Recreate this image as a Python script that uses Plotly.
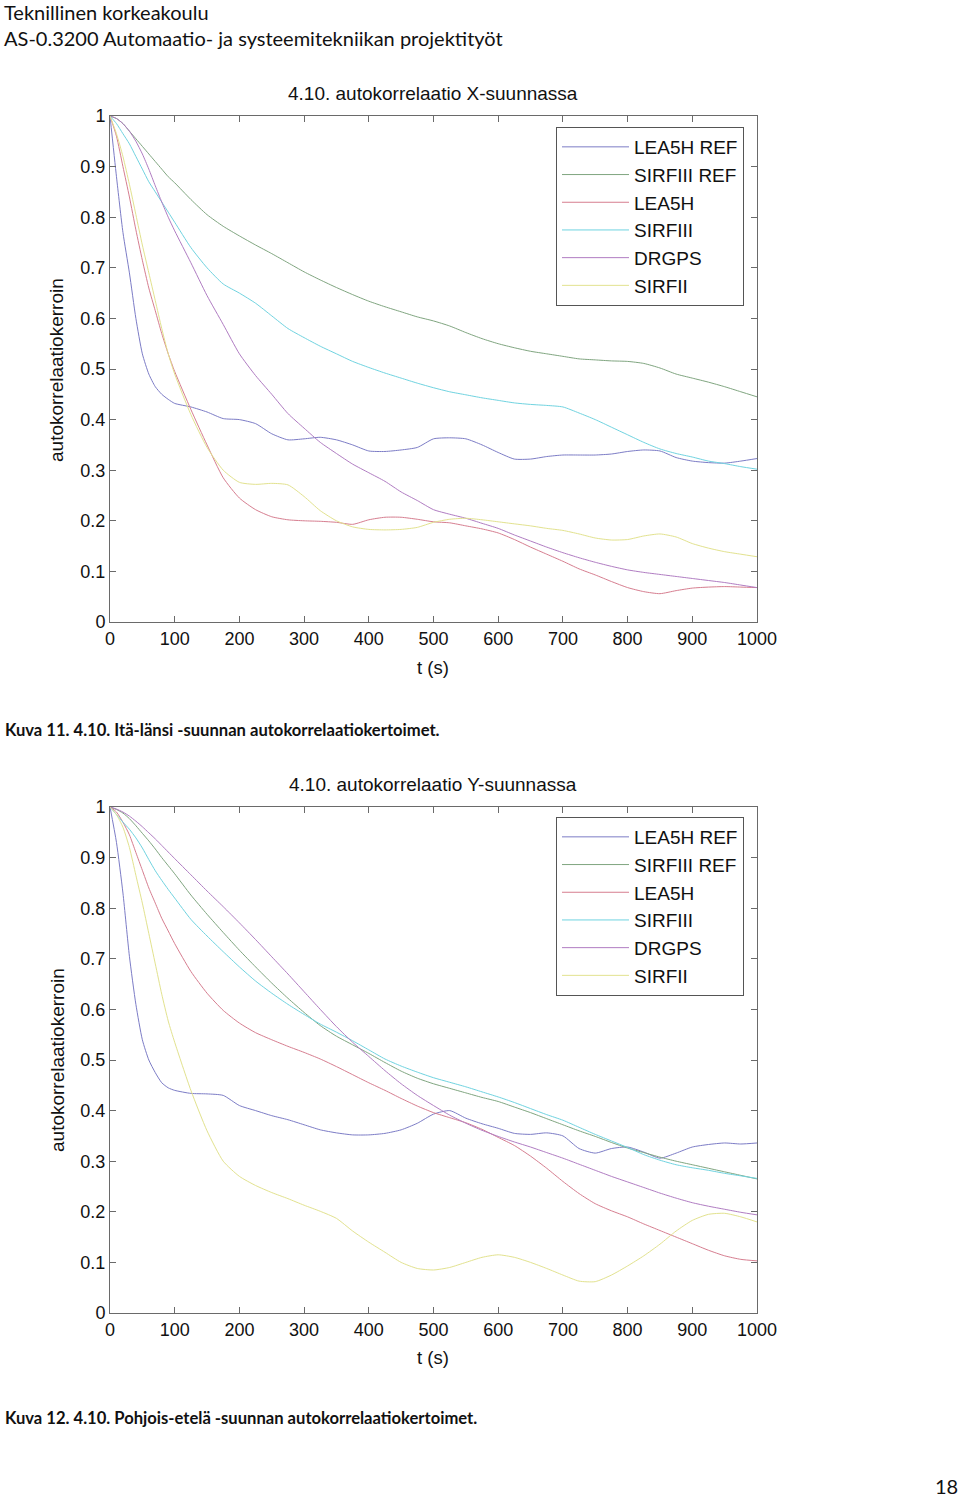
import plotly.graph_objects as go

W, H = 960, 1497

# ---------------- data ----------------
t = [0, 10, 20, 30, 40, 50, 60, 70, 80, 90, 100,
     125, 150, 175, 200, 225, 250, 275, 300, 325, 350, 375, 400, 425, 450, 475, 500,
     525, 550, 575, 600, 625, 650, 675, 700, 725, 750, 775, 800, 825, 850, 875, 900, 925, 950, 975, 1000]

series_names = ["LEA5H REF", "SIRFIII REF", "LEA5H", "SIRFIII", "DRGPS", "SIRFII"]

# X-direction (east-west)
x_lea5h_ref = [1.0, 0.88, 0.77, 0.69, 0.60, 0.53, 0.49, 0.465, 0.45, 0.44, 0.432,
               0.425, 0.415, 0.402, 0.40, 0.392, 0.372, 0.36, 0.362, 0.365, 0.36, 0.35, 0.338, 0.337, 0.34, 0.345, 0.362,
               0.364, 0.362, 0.35, 0.335, 0.322, 0.322, 0.327, 0.33, 0.33, 0.33, 0.332, 0.337, 0.34, 0.338, 0.325, 0.318, 0.315, 0.314, 0.318, 0.323]
x_sirfiii_ref = [1.0, 0.995, 0.985, 0.97, 0.955, 0.94, 0.925, 0.91, 0.895, 0.88, 0.868,
                 0.835, 0.805, 0.782, 0.763, 0.745, 0.728, 0.71, 0.692, 0.676, 0.661, 0.647, 0.634, 0.623, 0.613, 0.603, 0.595,
                 0.585, 0.572, 0.56, 0.55, 0.542, 0.535, 0.53, 0.525, 0.52, 0.518, 0.516, 0.515, 0.511, 0.502, 0.49, 0.482, 0.474, 0.465, 0.455, 0.445]
x_lea5h = [1.0, 0.96, 0.90, 0.84, 0.775, 0.715, 0.66, 0.615, 0.57, 0.53, 0.495,
           0.42, 0.35, 0.285, 0.245, 0.222, 0.208, 0.202, 0.20, 0.199, 0.197, 0.193, 0.202, 0.207, 0.207, 0.203, 0.198,
           0.196, 0.19, 0.184, 0.176, 0.163, 0.148, 0.134, 0.12, 0.105, 0.093, 0.08, 0.068, 0.06, 0.056, 0.062, 0.067, 0.069, 0.07, 0.069, 0.068]
x_sirfiii = [1.0, 0.985, 0.965, 0.945, 0.92, 0.895, 0.87, 0.85, 0.83, 0.81, 0.79,
             0.74, 0.70, 0.668, 0.65, 0.63, 0.605, 0.58, 0.562, 0.545, 0.53, 0.515, 0.503, 0.492, 0.482, 0.472, 0.463,
             0.455, 0.449, 0.443, 0.438, 0.433, 0.43, 0.428, 0.425, 0.413, 0.40, 0.385, 0.37, 0.355, 0.342, 0.333, 0.326, 0.318, 0.313, 0.307, 0.302]
x_drgps = [1.0, 0.995, 0.985, 0.97, 0.95, 0.925, 0.895, 0.862, 0.83, 0.80, 0.773,
           0.71, 0.645, 0.588, 0.53, 0.487, 0.45, 0.412, 0.383, 0.355, 0.333, 0.312, 0.295, 0.278, 0.257, 0.24, 0.222,
           0.213, 0.205, 0.195, 0.185, 0.172, 0.16, 0.148, 0.137, 0.127, 0.118, 0.11, 0.103, 0.098, 0.094, 0.09, 0.086, 0.082, 0.078, 0.073, 0.068]
x_sirfii = [1.0, 0.965, 0.92, 0.865, 0.805, 0.745, 0.69, 0.635, 0.58, 0.53, 0.49,
            0.41, 0.345, 0.30, 0.276, 0.272, 0.274, 0.271, 0.248, 0.22, 0.20, 0.188, 0.183, 0.182, 0.183, 0.187, 0.197,
            0.203, 0.205, 0.202, 0.198, 0.194, 0.19, 0.185, 0.181, 0.174, 0.166, 0.162, 0.163, 0.17, 0.174, 0.168, 0.155, 0.146, 0.139, 0.134, 0.129]

# Y-direction (north-south)
y_lea5h_ref = [1.0, 0.93, 0.83, 0.705, 0.61, 0.54, 0.50, 0.475, 0.455, 0.445, 0.44,
               0.434, 0.433, 0.43, 0.41, 0.40, 0.39, 0.382, 0.372, 0.362, 0.356, 0.352, 0.352, 0.355, 0.362, 0.375, 0.393,
               0.40, 0.385, 0.374, 0.365, 0.355, 0.353, 0.356, 0.35, 0.325, 0.316, 0.325, 0.328, 0.318, 0.306, 0.316, 0.328, 0.333, 0.336, 0.334, 0.336]
y_sirfiii_ref = [1.0, 0.995, 0.988, 0.977, 0.963, 0.948, 0.933, 0.917, 0.90, 0.884, 0.868,
                 0.826, 0.788, 0.752, 0.717, 0.684, 0.652, 0.622, 0.594, 0.568, 0.547, 0.53, 0.513, 0.495, 0.478, 0.464, 0.453,
                 0.444, 0.435, 0.426, 0.418, 0.407, 0.396, 0.384, 0.372, 0.36, 0.349, 0.337, 0.326, 0.317, 0.308, 0.30, 0.293, 0.286, 0.279, 0.272, 0.265]
y_lea5h = [1.0, 0.99, 0.97, 0.945, 0.91, 0.875, 0.84, 0.81, 0.78, 0.755, 0.73,
           0.675, 0.632, 0.598, 0.573, 0.554, 0.54, 0.527, 0.515, 0.502, 0.487, 0.471, 0.455, 0.44, 0.424, 0.409, 0.396,
           0.386, 0.376, 0.363, 0.347, 0.331, 0.31, 0.286, 0.26, 0.236, 0.216, 0.202, 0.19, 0.176, 0.163, 0.15, 0.137, 0.124, 0.113, 0.106, 0.103]
y_sirfiii = [1.0, 0.985, 0.97, 0.956, 0.939, 0.919, 0.896, 0.874, 0.855, 0.837, 0.82,
             0.778, 0.745, 0.714, 0.684, 0.656, 0.632, 0.61, 0.59, 0.571, 0.555, 0.538, 0.52, 0.502, 0.488, 0.476, 0.465,
             0.456, 0.447, 0.437, 0.427, 0.416, 0.404, 0.392, 0.381, 0.367, 0.353, 0.34, 0.327, 0.313, 0.302, 0.293, 0.287, 0.282, 0.276, 0.271, 0.266]
y_drgps = [1.0, 0.996, 0.99, 0.982, 0.972, 0.961, 0.949, 0.937, 0.924, 0.911, 0.898,
           0.866, 0.834, 0.803, 0.771, 0.738, 0.704, 0.67, 0.635, 0.60, 0.566, 0.535, 0.507, 0.479, 0.453, 0.43, 0.41,
           0.391, 0.375, 0.361, 0.349, 0.338, 0.328, 0.317, 0.306, 0.294, 0.282, 0.27, 0.259, 0.248, 0.237, 0.227, 0.218, 0.211, 0.205, 0.199, 0.194]
y_sirfii = [1.0, 0.985, 0.96, 0.92, 0.865, 0.81, 0.75, 0.69, 0.63, 0.577, 0.535,
            0.44, 0.36, 0.30, 0.27, 0.252, 0.238, 0.226, 0.213, 0.201, 0.187, 0.162, 0.14, 0.12, 0.10, 0.088, 0.085,
            0.09, 0.10, 0.11, 0.115, 0.11, 0.10, 0.088, 0.075, 0.063, 0.062, 0.075, 0.093, 0.113, 0.136, 0.162, 0.183, 0.195, 0.197, 0.19, 0.18]

x_tick_vals = [0, 100, 200, 300, 400, 500, 600, 700, 800, 900, 1000]
x_tick_text = ["0", "100", "200", "300", "400", "500", "600", "700", "800", "900", "1000"]
y_tick_vals = [0, 0.1, 0.2, 0.3, 0.4, 0.5, 0.6, 0.7, 0.8, 0.9, 1]
y_tick_text = ["0", "0.1", "0.2", "0.3", "0.4", "0.5", "0.6", "0.7", "0.8", "0.9", "1"]

colors = ["#7c7cc6", "#7fa57f", "#d67d8f", "#6fd3e0", "#b07cc2", "#e2e28e"]

# ---------------- figure ----------------
fig = go.Figure()

def px_x(p):
    return p / W

def px_y(p):
    return 1 - p / H

X_series = [x_lea5h_ref, x_sirfiii_ref, x_lea5h, x_sirfiii, x_drgps, x_sirfii]
Y_series = [y_lea5h_ref, y_sirfiii_ref, y_lea5h, y_sirfiii, y_drgps, y_sirfii]

for i, (name, vals) in enumerate(zip(series_names, X_series)):
    fig.add_trace(go.Scatter(x=t, y=vals, name=name, mode="lines",
                             line=dict(color=colors[i], width=1, shape="spline", smoothing=0.6),
                             xaxis="x", yaxis="y", legend="legend", legendgroup="a%d" % i))
for i, (name, vals) in enumerate(zip(series_names, Y_series)):
    fig.add_trace(go.Scatter(x=t, y=vals, name=name, mode="lines",
                             line=dict(color=colors[i], width=1, shape="spline", smoothing=0.6),
                             xaxis="x2", yaxis="y2", legend="legend2", legendgroup="b%d" % i))

sans = "Liberation Sans, Arial, sans-serif"
doc = "Lato, Open Sans, sans-serif"

tickfont = dict(family=sans, size=18, color="#111")
axcommon = dict(showline=True, linecolor="#6a6a6a", linewidth=1, mirror="allticks",
                ticks="inside", ticklen=6, tickcolor="#6a6a6a", showgrid=False, zeroline=False,
                tickfont=tickfont, fixedrange=True, automargin=False)

legcommon = dict(xanchor="left", yanchor="top", bgcolor="white", bordercolor="#555", borderwidth=1,
                 font=dict(family=sans, size=19, color="#111"),
                 tracegroupgap=0, itemwidth=67)

fig.update_layout(
    width=W, height=H, autosize=False,
    margin=dict(l=0, r=0, t=0, b=0, pad=0, autoexpand=False),
    paper_bgcolor="white", plot_bgcolor="white",
    xaxis=dict(domain=[px_x(110), px_x(757)], range=[0, 1000], anchor="y",
               tickvals=x_tick_vals, ticktext=x_tick_text, **axcommon),
    yaxis=dict(domain=[px_y(622), px_y(116)], range=[0, 1], anchor="x",
               tickvals=y_tick_vals, ticktext=y_tick_text, **axcommon),
    xaxis2=dict(domain=[px_x(110), px_x(757)], range=[0, 1000], anchor="y2",
                tickvals=x_tick_vals, ticktext=x_tick_text, **axcommon),
    yaxis2=dict(domain=[px_y(1313), px_y(807)], range=[0, 1], anchor="x2",
                tickvals=y_tick_vals, ticktext=y_tick_text, **axcommon),
    legend=dict(x=px_x(556), y=px_y(127), **legcommon),
    legend2=dict(x=px_x(556), y=px_y(817), **legcommon),
    showlegend=True,
)

ann = []
def text(s, x, y, size, family, xanchor="center", bold=False, angle=0, color="#111"):
    ann.append(dict(text=("<b>%s</b>" % s) if bold else s, x=px_x(x), y=px_y(y),
                    xref="paper", yref="paper", xanchor=xanchor, yanchor="middle",
                    showarrow=False, textangle=angle,
                    font=dict(family=family, size=size, color=color)))

text("Teknillinen korkeakoulu", 2, 12, 20, doc, xanchor="left")
text("AS-0.3200 Automaatio- ja systeemitekniikan projektityöt", 2, 38, 20, doc, xanchor="left")
text("4.10. autokorrelaatio X-suunnassa", 433, 94, 19, sans)
text("4.10. autokorrelaatio Y-suunnassa", 433, 784, 19, sans)
text("autokorrelaatiokerroin", 57, 370, 19, sans, angle=-90)
text("autokorrelaatiokerroin", 57, 1060, 19, sans, angle=-90)
text("t (s)", 433, 667, 18.5, sans)
text("t (s)", 433, 1357, 18.5, sans)
text("Kuva 11. 4.10. Itä-länsi -suunnan autokorrelaatiokertoimet.", 3, 730, 16.6, doc, xanchor="left", bold=True)
text("Kuva 12. 4.10. Pohjois-etelä -suunnan autokorrelaatiokertoimet.", 3, 1418, 16.6, doc, xanchor="left", bold=True)
text("18", 946, 1486, 20, doc)
fig.update_layout(annotations=ann)

fig.write_html("out.html",
               config={"displayModeBar": False},
               post_script="document.body.style.margin='0px';document.body.style.padding='0px';")
